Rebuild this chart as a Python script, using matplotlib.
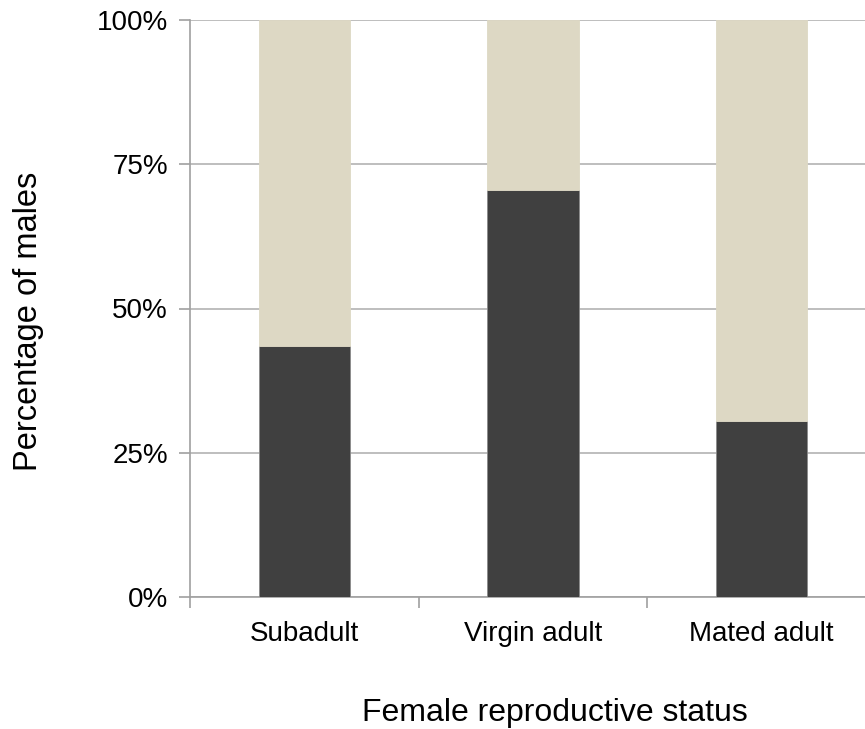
import numpy as np
import matplotlib.pyplot as plt
from matplotlib.ticker import FuncFormatter

plt.switch_backend('agg')
plt.rcParams['font.family'] = ['Liberation Sans', 'DejaVu Sans']

categories = ['Subadult', 'Virgin adult', 'Mated adult']
dark_pct = [43.5, 70.5, 30.5]
light_pct = [100 - v for v in dark_pct]

fig = plt.figure(figsize=(8.65, 7.29), dpi=100)
ax = fig.add_axes([190/865, 132/729, 686/865, 577/729])

x = np.arange(len(categories))
ax.bar(x, dark_pct, width=0.4, color='#404040', edgecolor='#8a8a8a', linewidth=0.6, zorder=3)
ax.bar(x, light_pct, width=0.4, bottom=dark_pct, color='#ddd8c4', edgecolor='#ddd8c4', linewidth=0.6, zorder=3)

ax.set_xlim(-0.5, 2.5)
ax.set_ylim(0, 100)
ax.set_yticks([0, 25, 50, 75, 100])
ax.yaxis.set_major_formatter(FuncFormatter(lambda v, p: '%d%%' % v))
ax.yaxis.grid(True, color='#b3b3b3', linewidth=1.2, zorder=0)
ax.set_axisbelow(True)

# category labels without ticks, boundary ticks as minor
ax.set_xticks(x)
ax.set_xticklabels(categories, fontsize=20)
ax.tick_params(axis='x', which='major', length=0, pad=17)
ax.set_xticks([-0.5, 0.5, 1.5, 2.5], minor=True)
ax.tick_params(axis='x', which='minor', length=8, width=1.2, color='#a0a0a0')
ax.tick_params(axis='y', length=8, width=1.2, color='#a0a0a0', labelsize=20, pad=8)

for s in ['top', 'right']:
    ax.spines[s].set_visible(False)
for s in ['left', 'bottom']:
    ax.spines[s].set_color('#a0a0a0')
    ax.spines[s].set_linewidth(1.2)

ax.set_xlabel('Female reproductive status', fontsize=23, labelpad=37, x=0.532)
ax.set_ylabel('Percentage of males', fontsize=23.5, labelpad=38, y=0.477)

fig.set_facecolor('white')
plt.savefig('out.png', dpi=100)
